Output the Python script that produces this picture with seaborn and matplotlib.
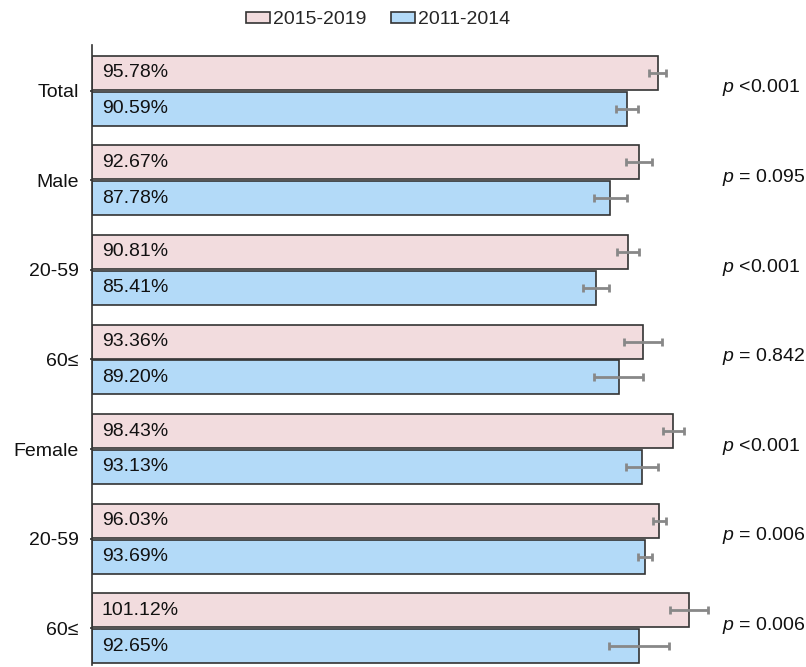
import matplotlib
matplotlib.use("Agg")
import matplotlib.pyplot as plt
from matplotlib.patches import Patch
import seaborn as sns
import pandas as pd

# ---- data ----
group_ids = ["Total", "Male", "Male 20-59", "Male 60≤", "Female", "Female 20-59", "Female 60≤"]
group_labels = ["Total", "Male", "20-59", "60≤", "Female", "20-59", "60≤"]
periods = ["2015-2019", "2011-2014"]
val_2015 = [95.78, 92.67, 90.81, 93.36, 98.43, 96.03, 101.12]
val_2011 = [90.59, 87.78, 85.41, 89.20, 93.13, 93.69, 92.65]
err_2015 = [1.4, 2.2, 1.85, 3.25, 1.75, 1.1, 3.15]
err_2011 = [1.85, 2.75, 2.2, 4.1, 2.65, 1.15, 5.15]
p_texts = ["<0.001", "= 0.095", "<0.001", "= 0.842", "<0.001", "= 0.006", "= 0.006"]

colors = {"2015-2019": "#F2DCDE", "2011-2014": "#B3DAF8"}
edge = "#333333"

df = pd.DataFrame({
    "group": group_ids * 2,
    "period": [periods[0]] * len(group_ids) + [periods[1]] * len(group_ids),
    "value": val_2015 + val_2011,
})

sns.set_style("white")
plt.rcParams["font.family"] = ["Liberation Sans", "DejaVu Sans"]
plt.rcParams["mathtext.fontset"] = "custom"
plt.rcParams["mathtext.it"] = "Liberation Sans:italic"
plt.rcParams["mathtext.rm"] = "Liberation Sans"

fig = plt.figure(figsize=(8.06, 6.67), dpi=100)
ax = fig.add_axes([92 / 806, 2 / 667, 620 / 806, 620 / 667])

sns.barplot(data=df, y="group", x="value", hue="period", hue_order=periods,
            order=group_ids, palette=colors, saturation=1, orient="h", width=0.8, gap=0.05,
            edgecolor=edge, linewidth=1.2, errorbar=None, ax=ax, legend=False)

bar_containers = list(ax.containers)
errs = [err_2015, err_2011]
vals = [val_2015, val_2011]
for k, cont in enumerate(bar_containers):
    bars = list(cont.patches)
    ys = [b.get_y() + b.get_height() / 2 for b in bars]
    xs = [b.get_width() for b in bars]
    ax.errorbar(xs, ys, xerr=errs[k], fmt="none", ecolor="#888888",
                elinewidth=2, capsize=3, capthick=2, zorder=5)
    for y, v in zip(ys, vals[k]):
        ax.annotate(f"{v:.2f}%", xy=(0, y), xytext=(7, 0), textcoords="offset points",
                    va="center", ha="left", fontsize=14, color="#111111")

ax.set_xlim(0, 105)
ax.set_ylim(6.41, -0.51)
ax.set_xlabel("")
ax.set_ylabel("")
ax.set_xticks([])
ax.set_yticks(range(len(group_labels)))
ax.set_yticklabels(group_labels, fontsize=14, color="#111111")
ax.tick_params(axis="y", length=1.5, width=1.2, color=edge, pad=8, left=True)
for s in ["top", "right", "bottom"]:
    ax.spines[s].set_visible(False)
ax.spines["left"].set_color(edge)
ax.spines["left"].set_linewidth(1.2)

for i, t in enumerate(p_texts):
    ax.annotate(r"$p$ " + t, xy=(1.0, i), xycoords=ax.get_yaxis_transform(),
                xytext=(7, 2), textcoords="offset points",
                va="center", ha="left", fontsize=14, color="#111111", annotation_clip=False)

handles = [Patch(facecolor=colors[p], edgecolor=edge, linewidth=1.2) for p in periods]
fig.legend(handles, periods, loc="center", bbox_to_anchor=(378 / 806, 1 - 20 / 667),
           ncol=2, frameon=False, handlelength=1.2, handleheight=0.5,
           handletextpad=0.15, columnspacing=1.3, fontsize=14)

fig.savefig("out.png", dpi=100)
